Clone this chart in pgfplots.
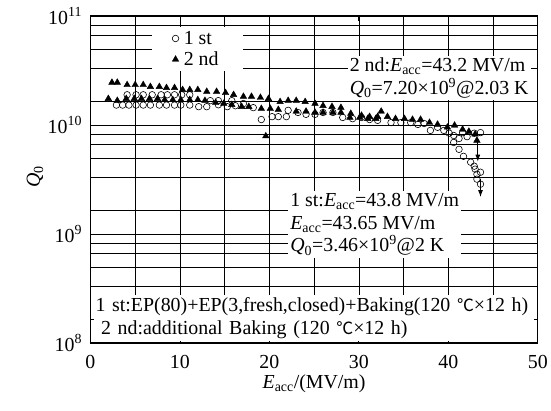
\documentclass[border=0pt]{standalone}
\usepackage{fontspec}
\setmainfont{Liberation Serif}
\newfontfamily\cjk{Noto Sans CJK SC}
\usepackage{pgfplots}
\pgfplotsset{compat=1.18}
\usetikzlibrary{arrows.meta}
\newcommand{\fs}{\fontsize{20}{23}\selectfont}
\newcommand{\degC}{{\cjk\fontsize{17}{23}\selectfont ℃}}
\begin{document}
\begin{tikzpicture}
\begin{axis}[
  scale only axis, width=450pt, height=329pt,
  at={(91pt,68pt)}, anchor=south west,
  ymode=log, xmin=0, xmax=50, ymin=1e8, ymax=1e11,
  xtick={0,10,20,30,40,50},
  minor xtick={5,15,25,35,45},
  ytick={1e8,1e9,1e10,1e11},
  yticklabels={10\textsuperscript{8},10\textsuperscript{9},10\textsuperscript{10},10\textsuperscript{11}},
  minor ytick={1.66e8,3.29e8,4.9e8,6.61e8,8.22e8,1.66e9,3.29e9,4.9e9,6.61e9,8.22e9,1.66e10,3.29e10,4.9e10,6.61e10,8.22e10},
  grid=both,
  grid style={black, line width=0.6pt},
  major grid style={black, line width=0.6pt},
  minor grid style={black, line width=0.6pt},
  axis line style={line width=1.4pt},
  tick style={black, line width=0.8pt},
  major tick length=5pt, minor tick length=4pt,
  /pgf/number format/assume math mode=true,
  tick label style={font=\fs},
  xticklabel style={yshift=-9pt},
  yticklabel style={xshift=-5pt},
  label style={font=\fs},
  xlabel={\textit{E}\textsubscript{acc}/(MV/m)},
  ylabel={\textit{Q}\textsubscript{0}},
  xlabel style={at={(axis description cs:0.5,-0.125)}, anchor=center},
  ylabel style={at={(axis description cs:-0.124,0.508)}, anchor=center},
  legend image code/.code={\draw[#1] plot coordinates {(0pt,0pt)};},
  legend style={at={(axis description cs:0.138,0.966)}, anchor=north west, draw=none, fill=white, font=\fs, inner xsep=20pt, inner ysep=2pt, row sep=2pt,
    nodes={inner xsep=5pt}},
  legend cell align=left,
]
\addplot[only marks, mark=o, mark size=3.3pt, black, line width=0.6pt] coordinates {
(2.9,1.52e10)(3.6,1.52e10)(4.3,1.52e10)(5.1,1.52e10)(5.9,1.52e10)(6.7,1.52e10)(7.7,1.52e10)(8.5,1.52e10)(9.4,1.52e10)(10.1,1.52e10)(11.1,1.52e10)
(12.1,1.47e10)(13.0,1.47e10)(14.3,1.53e10)(15.3,1.47e10)(16.2,1.50e10)(17.1,1.57e10)(18.2,1.44e10)(19.1,1.12e10)(20.3,1.19e10)(21.0,1.19e10)(21.9,1.19e10)
(22.1,1.36e10)(23.2,1.30e10)(24.1,1.25e10)(25.1,1.25e10)(26.0,1.30e10)(27.1,1.30e10)(28.2,1.17e10)(29.3,1.14e10)(30.3,1.17e10)(31.2,1.12e10)(32.1,1.10e10)
(33.6,1.05e10)(34.7,1.05e10)(35.8,1.05e10)(36.6,1.01e10)(37.3,1.03e10)(38.0,8.9e9)(38.8,9.5e9)(39.5,8.9e9)(40.1,8.4e9)(40.6,8.0e9)(41.2,7.5e9)(41.6,8.5e9)
(42.1,7.8e9)(42.9,8.4e9)(43.6,8.5e9)
(40.6,6.9e9)(41.2,5.97e9)(41.7,5.15e9)(42.5,4.55e9)(42.9,4.18e9)(43.0,3.93e9)(43.2,3.53e9)(43.6,3.68e9)(43.2,3.18e9)(43.6,2.86e9)
(4.1,1.89e10)(5.1,1.89e10)(5.9,1.89e10)(6.9,1.89e10)(7.9,1.89e10)(8.6,1.89e10)(9.4,1.89e10)(10.2,1.89e10)(11.1,1.89e10)
(13.4,1.67e10)(14.3,1.67e10)(15.8,1.67e10)
};
\addlegendentry{1 st}
\addplot[only marks, mark=triangle*, mark size=3.8pt, black] coordinates {
(2.4,2.45e10)(3.0,2.45e10)(4.1,2.33e10)(5.0,2.33e10)(5.9,2.33e10)(6.7,2.24e10)(7.7,2.24e10)(8.5,2.19e10)(9.4,2.19e10)(10.3,2.10e10)(11.1,2.10e10)
(12.0,2.10e10)(13.0,2.02e10)(14.1,2.02e10)(15.1,1.97e10)(16.0,1.89e10)(17.1,1.82e10)(18.0,1.82e10)(19.0,1.78e10)(19.9,1.74e10)(21.2,1.63e10)
(22.1,1.67e10)(23.0,1.67e10)(24.0,1.63e10)(25.1,1.57e10)(26.0,1.50e10)(27.0,1.47e10)(28.0,1.44e10)(29.1,1.27e10)(30.3,1.22e10)(31.2,1.19e10)
(32.1,1.19e10)(32.5,1.33e10)(33.2,1.19e10)(34.1,1.14e10)(35.1,1.14e10)(36.0,1.12e10)(36.9,1.12e10)(37.9,1.05e10)(38.8,1.01e10)(39.9,9.5e9)
(40.7,9.9e9)(41.6,9.1e9)(42.3,8.7e9)(43.0,8.2e9)(43.2,7.2e9)
(2.0,1.74e10)(3.0,1.67e10)(4.0,1.74e10)(4.9,1.74e10)(5.7,1.74e10)(6.6,1.74e10)(7.5,1.74e10)(8.3,1.70e10)(9.2,1.70e10)(10.1,1.70e10)(11.1,1.70e10)
(12.0,1.70e10)(12.8,1.67e10)(14.0,1.60e10)(14.9,1.57e10)(15.8,1.53e10)(16.9,1.47e10)(17.7,1.47e10)(19.1,1.41e10)(20.1,1.41e10)(21.0,1.38e10)
(23.0,1.33e10)(24.1,1.33e10)(25.1,1.30e10)(26.0,1.30e10)(27.1,1.30e10)(28.0,1.30e10)(29.0,1.17e10)(30.1,1.17e10)(31.0,1.14e10)(31.9,1.14e10)
(19.6,7.9e9)
};
\addlegendentry{2 nd}
\draw[-{Latex[length=7pt,width=5pt]}, line width=0.9pt] (axis cs:43.3,7.0e9) -- (axis cs:43.3,4.6e9);
\draw[-{Latex[length=7pt,width=5pt]}, line width=0.9pt] (axis cs:43.6,3.2e9) -- (axis cs:43.6,2.18e9);
\node[fill=white, inner sep=2pt, anchor=north west, align=left, font=\fs] at (rel axis cs:0.575,0.878)
  {2 nd:\textit{E}\textsubscript{acc}=43.2 MV/m\\\textit{Q}\textsubscript{0}=7.20×10\textsuperscript{9}@2.03 K};
\node[fill=white, inner sep=2pt, anchor=north west, align=left, font=\fs] at (rel axis cs:0.442,0.465)
  {1 st:\textit{E}\textsubscript{acc}=43.8 MV/m\\\textit{E}\textsubscript{acc}=43.65 MV/m\\\textit{Q}\textsubscript{0}=3.46×10\textsuperscript{9}@2 K};
\node[fill=white, inner xsep=4pt, inner ysep=3pt, anchor=south west, align=left, font=\fs, text width=439pt] at ([shift={(1pt,1pt)}]rel axis cs:0,0)
  {1 st:EP(80)+EP(3,fresh,closed)+Baking(120 \degC×12 h)\\\;2 nd:additional Baking (120 \degC×12 h)};
\draw[line width=0.8pt] (axis cs:10,1e8) -- (axis cs:10,1.036e8);
\draw[line width=0.8pt] (axis cs:20,1e8) -- (axis cs:20,1.036e8);
\draw[line width=0.8pt] (axis cs:30,1e8) -- (axis cs:30,1.036e8);
\draw[line width=0.8pt] (axis cs:40,1e8) -- (axis cs:40,1.036e8);
\draw[line width=0.8pt] (axis cs:5,1e8) -- (axis cs:5,1.029e8);
\draw[line width=0.8pt] (axis cs:15,1e8) -- (axis cs:15,1.029e8);
\draw[line width=0.8pt] (axis cs:25,1e8) -- (axis cs:25,1.029e8);
\draw[line width=0.8pt] (axis cs:35,1e8) -- (axis cs:35,1.029e8);
\draw[line width=0.8pt] (axis cs:45,1e8) -- (axis cs:45,1.029e8);
\draw[line width=0.8pt] (axis cs:0,1.66e8) -- (axis cs:0.45,1.66e8);
\draw[line width=0.8pt] (axis cs:50,1.66e8) -- (axis cs:49.55,1.66e8);
\draw[line width=1.4pt] (rel axis cs:0,0) rectangle (rel axis cs:1,1);
\end{axis}
\path (0,0) rectangle (551pt,413pt);
\end{tikzpicture}
\end{document}
